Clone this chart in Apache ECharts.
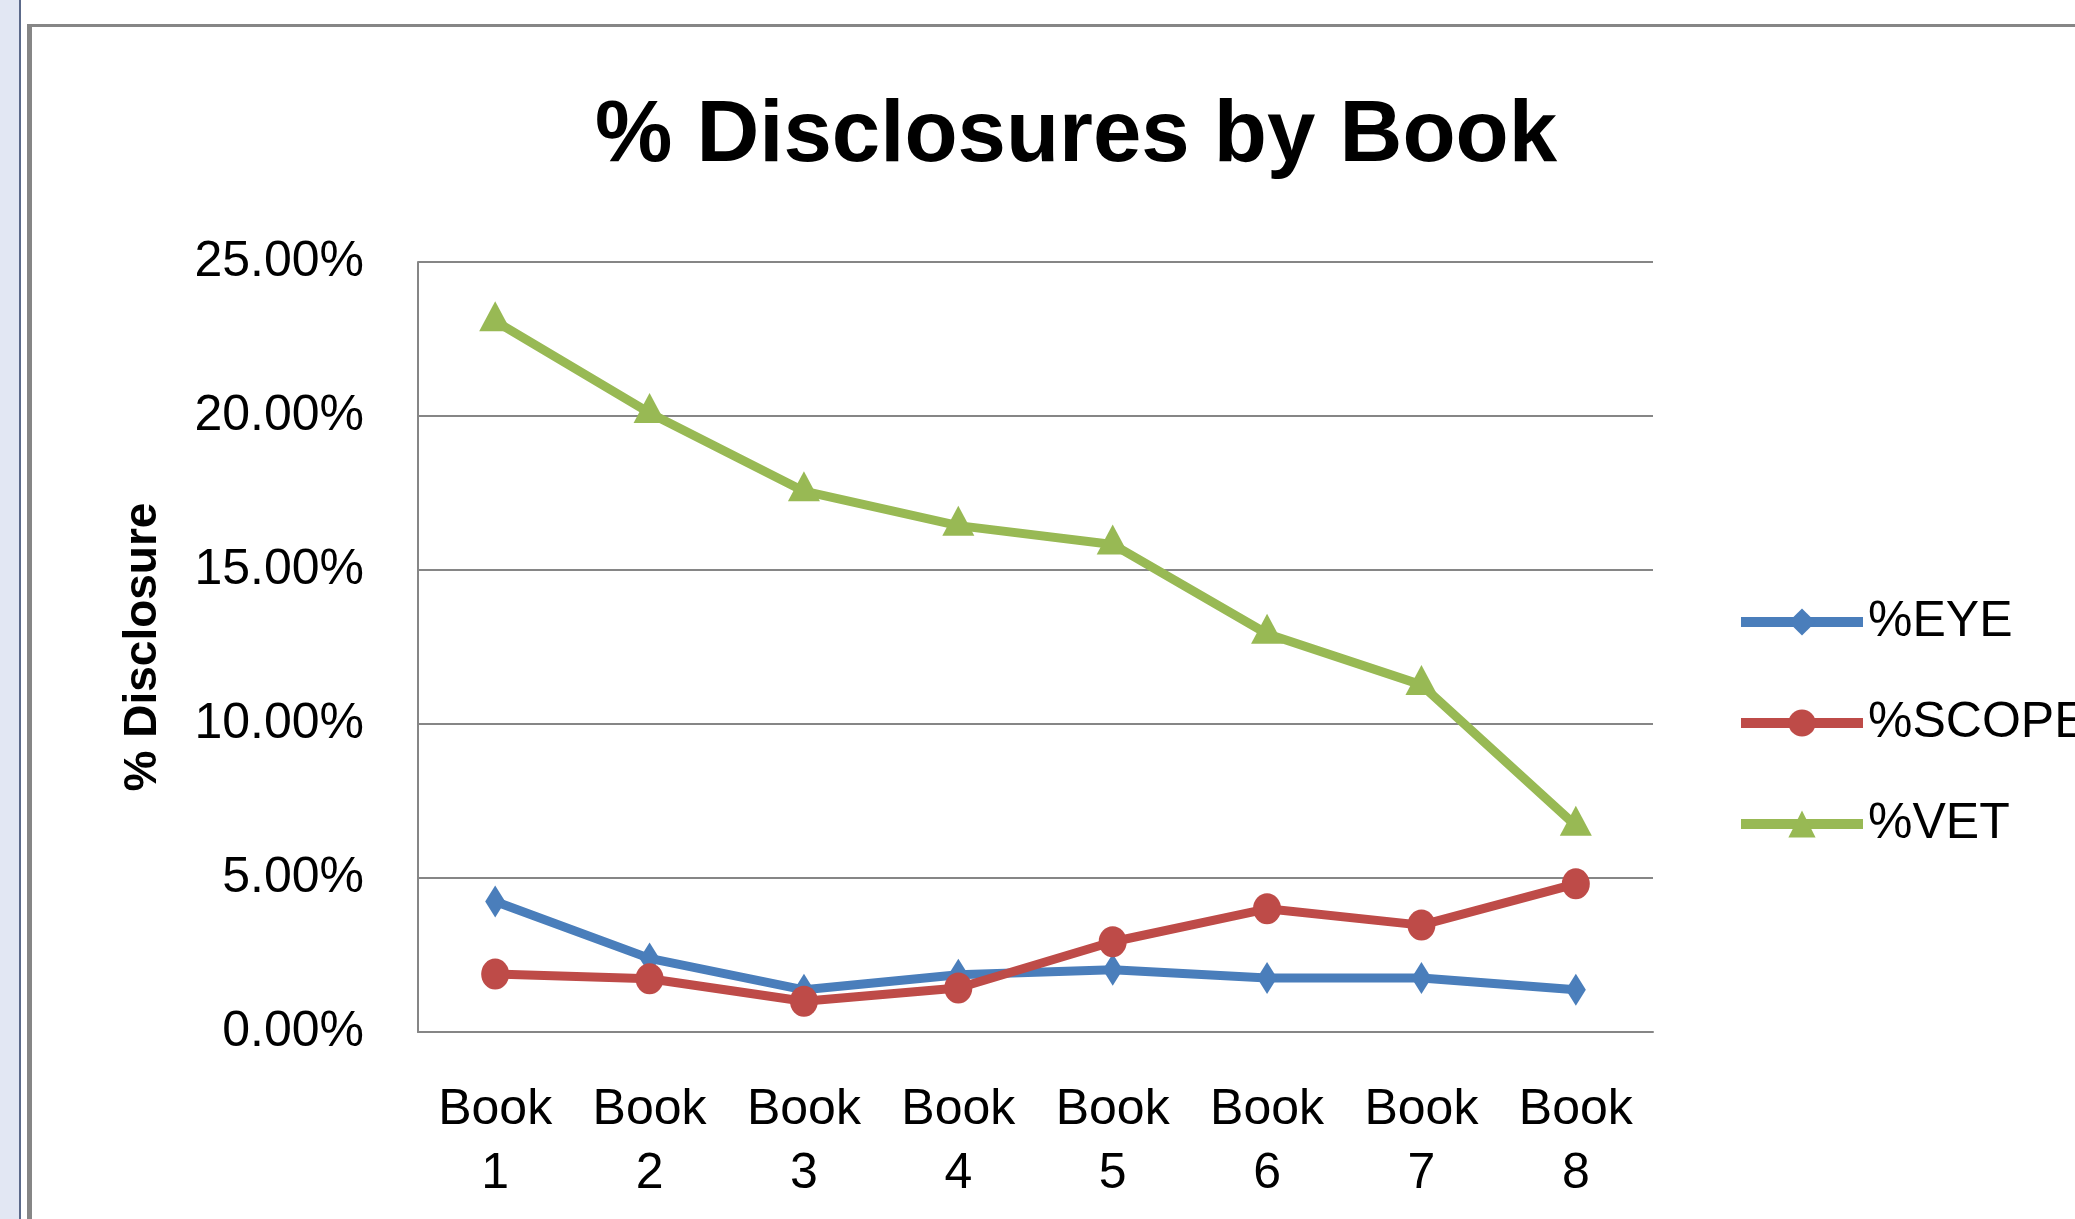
<!DOCTYPE html>
<html>
<head>
<meta charset="utf-8">
<script src="https://cdn.jsdelivr.net/npm/echarts@6/dist/echarts.min.js"></script>
<style>
html,body{margin:0;padding:0;background:#fff;}
#chart{width:2075px;height:1219px;}
</style>
</head>
<body>
<div id="chart"></div>
<script>
var categories = ['Book\n1','Book\n2','Book\n3','Book\n4','Book\n5','Book\n6','Book\n7','Book\n8'];
var eyeValues = [0.0424, 0.0239, 0.0137, 0.0186, 0.0202, 0.0175, 0.0175, 0.0137];
var scopeValues = [0.0188, 0.0173, 0.0100, 0.0143, 0.0293, 0.0400, 0.0347, 0.0481];
var vetValues = [0.2308, 0.2010, 0.1756, 0.1644, 0.1583, 0.1293, 0.1127, 0.0670];
var seriesNames = ['%EYE', '%SCOPE', '%VET'];
var yTicks = {min: 0, max: 0.25, interval: 0.05};

var FONT = "'Liberation Sans', Arial, sans-serif";
var chart = echarts.init(document.getElementById('chart'), null, {renderer: 'canvas'});

chart.setOption({
  animation: false,
  backgroundColor: '#ffffff',
  textStyle: {fontFamily: FONT},
  graphic: [
    {type: 'rect', shape: {x: 0, y: 0, width: 19, height: 1219}, style: {fill: '#e2e7f3'}, z: -10},
    {type: 'rect', shape: {x: 19, y: 0, width: 2, height: 1219}, style: {fill: '#5c6a8a'}, z: -10},
    {type: 'rect', shape: {x: 27, y: 24, width: 5, height: 1195}, style: {fill: '#868686'}, z: -10},
    {type: 'rect', shape: {x: 27, y: 24, width: 2048, height: 3}, style: {fill: '#868686'}, z: -10},
    {type: 'text', x: 1076, y: 137, style: {text: '% Disclosures by Book', fontFamily: FONT, fontSize: 87, fontWeight: 'bold', fill: '#000', textAlign: 'center', textVerticalAlign: 'middle'}}
  ],
  grid: {left: 418, right: 422, top: 262, bottom: 187, containLabel: false, outerBoundsMode: 'none'},
  legend: {
    orient: 'vertical',
    left: 1731,
    top: 592,
    itemWidth: 122,
    itemHeight: 34,
    itemGap: 51,
    data: seriesNames,
    textStyle: {fontFamily: FONT, fontSize: 50, color: '#000'},
    lineStyle: {width: 10}
  },
  xAxis: {
    type: 'category',
    data: categories,
    boundaryGap: true,
    axisLine: {show: true, lineStyle: {color: '#868686', width: 2}},
    axisTick: {show: false},
    axisLabel: {fontFamily: FONT, fontSize: 50, color: '#000', lineHeight: 64, margin: 46, interval: 0},
    splitLine: {show: false}
  },
  yAxis: {
    type: 'value',
    min: yTicks.min,
    max: yTicks.max,
    interval: yTicks.interval,
    name: '% Disclosure',
    nameLocation: 'middle',
    nameRotate: 90,
    nameGap: 252,
    nameTextStyle: {fontFamily: FONT, fontSize: 46, fontWeight: 'bold', color: '#000'},
    axisLine: {show: true, lineStyle: {color: '#868686', width: 2}},
    axisTick: {show: false},
    axisLabel: {fontFamily: FONT, fontSize: 50, color: '#000', margin: 54,
      formatter: function (v) { return (v * 100).toFixed(2) + '%'; }},
    splitLine: {show: true, lineStyle: {color: '#868686', width: 2}}
  },
  series: [
    {
      name: seriesNames[0], type: 'line', data: eyeValues,
      symbol: 'diamond', symbolSize: [20, 32],
      lineStyle: {color: '#4a7ebb', width: 9},
      itemStyle: {color: '#4a7ebb'}
    },
    {
      name: seriesNames[1], type: 'line', data: scopeValues,
      symbol: 'circle', symbolSize: [28, 31],
      lineStyle: {color: '#be4b48', width: 9},
      itemStyle: {color: '#be4b48'}
    },
    {
      name: seriesNames[2], type: 'line', data: vetValues,
      symbol: 'triangle', symbolSize: [32, 30], symbolOffset: [0, -5],
      lineStyle: {color: '#98b954', width: 9},
      itemStyle: {color: '#98b954'}
    }
  ]
});
</script>
</body>
</html>
